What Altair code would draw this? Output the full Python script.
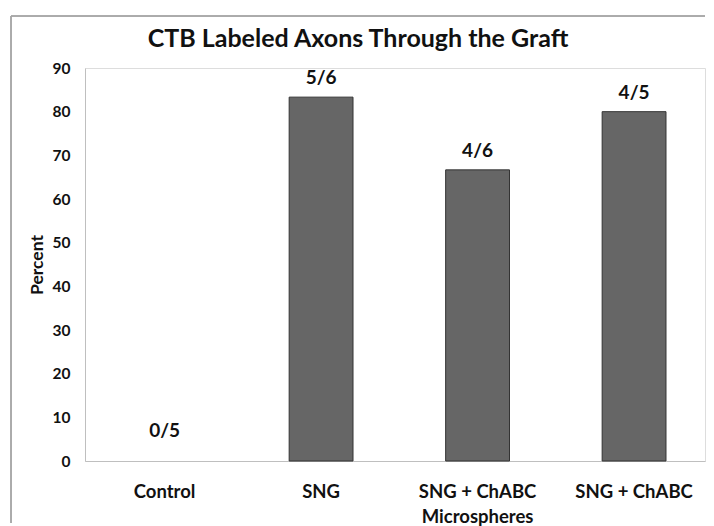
import altair as alt
import pandas as pd

categories = ["Control", "SNG", "SNG +  ChABC|Microspheres", "SNG + ChABC"]
percent = [0, 83.33, 66.67, 80.0]
labels = ["0/5", "5/6", "4/6", "4/5"]
y_ticks = [0, 10, 20, 30, 40, 50, 60, 70, 80, 90]

df = pd.DataFrame({"cat": categories, "pct": percent, "lab": labels})

FONT = "Lato"
x_enc = alt.X(
    "cat:N", sort=categories, title=None,
    scale=alt.Scale(paddingInner=0.592, paddingOuter=0.277, align=0.55),
    axis=alt.Axis(labelAngle=0, ticks=False, domainColor="#bfbfbf", labelFont=FONT,
                  labelFontWeight="bold", labelFontSize=18.5, labelColor="#111111",
                  labelPadding=21, labelLimit=300, labelLineHeight=25,
                  labelExpr="split(datum.label, '|')"),
)
y_enc = alt.Y(
    "pct:Q", title="Percent",
    scale=alt.Scale(domain=[0, 90], nice=False),
    axis=alt.Axis(values=y_ticks, ticks=False, grid=False, domainColor="#bfbfbf",
                  labelFont=FONT, labelFontWeight="bold", labelFontSize=15.5,
                  labelColor="#111111", labelPadding=15, titleFont=FONT,
                  titleFontWeight="bold", titleFontSize=17.5, titleColor="#111111",
                  titlePadding=6),
)

base = alt.Chart(df)
bars = base.mark_bar(color="#666666", stroke="#333333").encode(
    x=x_enc, y=y_enc,
    strokeWidth=alt.condition("datum.pct > 0", alt.value(1), alt.value(0)))
text_nz = base.transform_filter("datum.pct > 0").mark_text(
    font=FONT, fontWeight="bold", fontSize=19, color="#111111", baseline="bottom", dy=-9
).encode(x=alt.X("cat:N", sort=categories), y="pct:Q", text="lab:N")
text_z = base.transform_filter("datum.pct == 0").mark_text(
    font=FONT, fontWeight="bold", fontSize=19, color="#111111", baseline="bottom", dy=-20
).encode(x=alt.X("cat:N", sort=categories), y="pct:Q", text="lab:N")

border_left = alt.Chart(df).mark_rule(color="#a6a6a6", strokeWidth=1).encode(
    x=alt.value(-74), x2=alt.value(-74), y=alt.value(-52), y2=alt.value(455))
border_top = alt.Chart(df).mark_rule(color="#a6a6a6", strokeWidth=1).encode(
    x=alt.value(-74), x2=alt.value(620), y=alt.value(-52), y2=alt.value(-52))

chart = alt.layer(bars, text_nz, text_z, border_left, border_top).properties(
    width=620, height=393,
    title=alt.TitleParams("CTB Labeled Axons Through the Graft", font=FONT, fontSize=25,
                          fontWeight="bold", color="#111111", anchor="middle", dx=-37,
                          offset=-36),
    padding={"left": 2, "top": 7, "right": 0, "bottom": 0},
).configure_view(strokeWidth=0, stroke="transparent").configure(background="white")

chart.save("out.html", embed_options={"renderer": "svg", "actions": False})
